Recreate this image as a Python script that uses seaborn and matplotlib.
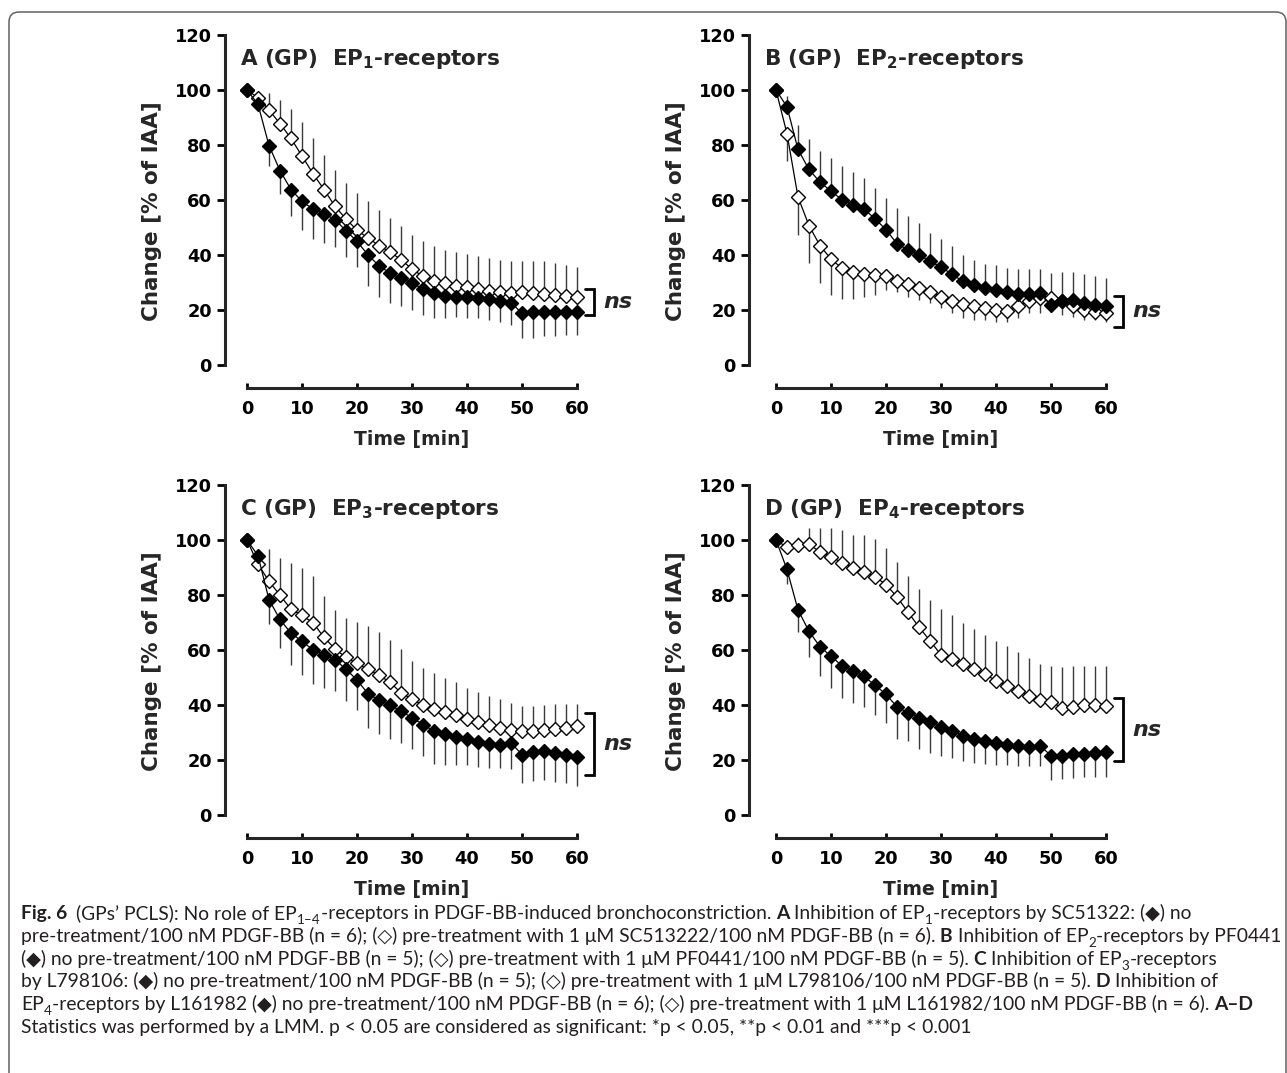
import numpy as np
import pandas as pd
import seaborn as sns
import matplotlib.pyplot as plt
from matplotlib.patches import FancyBboxPatch

# time points [min]
time_min = list(range(0, 61, 2))

# A - EP1 (SC51322)
a_ctrl_mean = [100, 94.8, 79.8, 70.7, 63.8, 59.5, 56.7, 55.0, 52.9, 48.8, 45.0, 40.0, 36.1, 33.4, 31.6, 29.8,
               27.6, 26.1, 25.2, 24.9, 24.7, 24.5, 23.9, 23.3, 22.7, 18.8, 19.1, 19.4, 19.4, 19.4, 19.4]
a_ctrl_sem = [0, 2, 7.5, 8.5, 9.7, 10.5, 10.9, 10.6, 10.1, 9.6, 9.4, 11.4, 11.2, 10.9, 10.3, 9.8,
              9.4, 9.1, 8.2, 7.6, 7.7, 7.5, 7.5, 7.5, 8.1, 9.1, 9.1, 8.8, 8.8, 8.5, 8.5]
a_inh_mean = [100, 97.2, 92.7, 87.8, 82.4, 76.0, 69.6, 63.8, 57.7, 53.1, 49.0, 46.2, 43.4, 41.1, 38.3, 34.9,
              32.2, 30.6, 29.8, 28.9, 28.2, 27.6, 27.0, 26.5, 26.1, 26.4, 26.1, 25.9, 25.5, 25.2, 24.7]
a_inh_sem = [0, 2, 6.3, 8.6, 10.8, 12.3, 13.0, 12.7, 13.1, 13.1, 13.6, 13.3, 13.1, 12.4, 12.4, 12.5,
             12.8, 12.5, 12.1, 12.2, 12.1, 11.9, 11.9, 11.8, 11.9, 11.6, 11.8, 11.8, 11.6, 11.3, 11.1]

# B - EP2 (PF0441)
b_ctrl_mean = [100, 93.9, 78.4, 71.1, 66.5, 63.2, 60.1, 58.3, 56.7, 53.2, 49.2, 44.1, 41.9, 40.1, 37.7, 35.6,
               33.0, 30.4, 29.2, 27.9, 27.3, 26.4, 25.9, 25.8, 26.1, 21.9, 23.1, 23.5, 22.7, 21.9, 21.3]
b_ctrl_sem = [0, 4, 9, 11, 11.5, 12, 12.2, 11.8, 11.3, 11.2, 11.6, 13, 12.2, 11.5, 10.3, 10.2,
              10.1, 9.7, 9.1, 8.9, 9.2, 8.8, 9, 9.1, 8.8, 11.5, 10.6, 10.5, 10.5, 10.3, 10.3]
b_inh_mean = [100, 84.1, 61.1, 50.7, 43.4, 38.5, 35.2, 33.7, 33.0, 32.8, 32.2, 30.7, 29.4, 27.9, 26.4, 24.9,
              23.3, 22.1, 21.3, 20.9, 20.0, 19.8, 21.5, 23.3, 24.3, 24.5, 23.1, 21.5, 20.0, 19.2, 18.8]
b_inh_sem = [0, 10, 13.7, 13.6, 13.6, 13, 11.3, 9.8, 8.1, 7.3, 4.9, 4.3, 4.5, 4.2, 3.9, 4.2,
             4.5, 5.1, 5.1, 4.7, 4.2, 4.0, 4.5, 4.5, 5.5, 5.4, 4.9, 3.9, 3.5, 3.0, 3.0]

# C - EP3 (L798106)
c_ctrl_mean = [100, 94.3, 78.3, 71.1, 66.1, 63.2, 60.0, 58.3, 56.5, 53.0, 49.1, 44.1, 41.8, 39.9, 37.8, 35.4,
               32.9, 30.5, 29.3, 28.3, 27.7, 26.5, 26.0, 25.6, 26.2, 22.0, 22.8, 23.4, 22.6, 22.0, 21.1]
c_ctrl_sem = [0, 3, 9, 10.5, 11.5, 12.3, 12.4, 12, 11.5, 11.5, 11, 12.5, 12.5, 12.2, 11.5, 11.5,
              11.5, 12, 11, 10, 9.4, 9, 8.8, 8.5, 9.5, 10.4, 10.5, 10.5, 10.5, 10.5, 10.5]
c_inh_mean = [100, 91.2, 85.0, 79.9, 74.8, 72.6, 69.9, 64.6, 60.4, 57.3, 55.1, 53.0, 50.9, 48.2, 44.5, 42.1,
              39.9, 38.7, 37.4, 36.2, 35.0, 33.8, 32.6, 31.7, 30.9, 30.5, 30.7, 30.9, 31.1, 31.7, 32.3]
c_inh_sem = [0, 3.8, 11.7, 13.6, 16.7, 17.4, 17.1, 14.9, 14.0, 14.3, 15.0, 15.9, 15.6, 15.6, 15.9, 14.0,
             13.4, 12.9, 12.6, 12.2, 11.3, 11.0, 10.7, 10.4, 10.0, 9.1, 8.9, 9.0, 9.1, 8.8, 8.2]

# D - EP4 (L161982)
d_ctrl_mean = [100, 89.3, 74.6, 66.8, 61.2, 57.7, 54.3, 52.4, 50.4, 47.2, 43.9, 39.3, 37.2, 35.4, 33.8, 32.1,
               30.5, 28.9, 27.7, 26.8, 26.2, 25.6, 25.0, 24.8, 25.2, 21.6, 21.3, 22.2, 22.3, 22.6, 22.8]
d_ctrl_sem = [0, 5.2, 7.9, 9.5, 10.6, 11.4, 11.6, 11.5, 11.0, 11.0, 10.6, 11.6, 10.4, 11.4, 11.2, 10.5,
              9.8, 9.4, 8.8, 8.1, 7.9, 7.3, 7.3, 6.9, 7.5, 8.8, 8.3, 8.8, 8.5, 8.6, 8.8]
d_inh_mean = [100, 97.3, 98.2, 98.4, 95.7, 93.9, 91.8, 90.0, 88.4, 86.6, 83.8, 79.3, 73.8, 68.3, 63.4, 58.2,
              56.7, 54.9, 53.0, 51.2, 48.8, 47.0, 45.1, 43.3, 41.8, 41.2, 39.0, 39.4, 39.9, 39.9, 39.6]
d_inh_sem = [0, 1, 3, 6.1, 8.8, 10.4, 11.9, 12.0, 13.4, 13.8, 13.2, 12.7, 13.0, 14.0, 14.9, 16.6,
             15.9, 15.0, 14.7, 14.4, 14.4, 14.6, 14.0, 13.8, 13.1, 13.1, 14.9, 14.9, 14.4, 14.4, 14.7]

panel_letters = ["A", "B", "C", "D"]
receptor_sub = ["1", "2", "3", "4"]
# which group gets the upward error bar
upper_group = ["inh", "ctrl", "inh", "inh"]
# "ns" bracket range (y)
ns_brackets = [(18.2, 27.6), (14.0, 25.0), (14.6, 37.0), (19.6, 42.5)]

caption_lines = [
    [("Fig. 6  ", "b"), ("(GPs\u2019 PCLS): No role of EP", "n"), ("1\u20134", "s"),
     ("-receptors in PDGF-BB-induced bronchoconstriction. ", "n"), ("A ", "b"),
     ("Inhibition of EP", "n"), ("1", "s"), ("-receptors by SC51322: (\u25c6) no", "n")],
    [("pre-treatment/100 nM PDGF-BB (n = 6); (\u25c7) pre-treatment with 1 \u03bcM SC513222/100 nM PDGF-BB (n = 6). ", "n"),
     ("B ", "b"), ("Inhibition of EP", "n"), ("2", "s"), ("-receptors by PF0441", "n")],
    [("(\u25c6) no pre-treatment/100 nM PDGF-BB (n = 5); (\u25c7) pre-treatment with 1 \u03bcM PF0441/100 nM PDGF-BB (n = 5). ", "n"),
     ("C ", "b"), ("Inhibition of EP", "n"), ("3", "s"), ("-receptors", "n")],
    [("by L798106: (\u25c6) no pre-treatment/100 nM PDGF-BB (n = 5); (\u25c7) pre-treatment with 1 \u03bcM L798106/100 nM PDGF-BB (n = 5). ", "n"),
     ("D ", "b"), ("Inhibition of", "n")],
    [("EP", "n"), ("4", "s"),
     ("-receptors by L161982 (\u25c6) no pre-treatment/100 nM PDGF-BB (n = 6); (\u25c7) pre-treatment with 1 \u03bcM L161982/100 nM PDGF-BB (n = 6). ", "n"),
     ("A\u2013D", "b")],
    [("Statistics was performed by a LMM. p < 0.05 are considered as significant: *p < 0.05, **p < 0.01 and ***p < 0.001", "n")],
]

sns.set_theme(style="ticks")
plt.rcParams["font.family"] = ["DejaVu Sans"]
plt.rcParams["font.weight"] = "bold"
plt.rcParams["axes.labelweight"] = "bold"

W, H = 1287, 1073
fig = plt.figure(figsize=(W / 100, H / 100), dpi=100)
fig.patch.set_facecolor("white")

XS = 5.5     # px per min
YS = 2.75    # px per % unit
X_OFF = 23   # px gap between y=0 and the x axis line
# (y-spine px, x=0 px, y=120 px) for each panel
panel_px = [(225, 247, 35), (749, 776, 35), (225, 247, 485), (749, 776, 485)]

groups = {
    "A": (a_ctrl_mean, a_ctrl_sem, a_inh_mean, a_inh_sem),
    "B": (b_ctrl_mean, b_ctrl_sem, b_inh_mean, b_inh_sem),
    "C": (c_ctrl_mean, c_ctrl_sem, c_inh_mean, c_inh_sem),
    "D": (d_ctrl_mean, d_ctrl_sem, d_inh_mean, d_inh_sem),
}

for i, letter in enumerate(panel_letters):
    spine_x, x0_px, top_px = panel_px[i]
    xmin = (spine_x - x0_px) / XS
    xmax = 70
    ymin = -X_OFF / YS
    left = spine_x
    width = (xmax - xmin) * XS
    bottom_px = top_px + 120 * YS + X_OFF
    height = bottom_px - top_px
    ax = fig.add_axes([left / W, 1 - bottom_px / H, width / W, height / H])
    ax.set_facecolor("none")

    cm, cs, im, isem = [np.array(v, dtype=float) for v in groups[letter]]
    df_ctrl = pd.DataFrame({"time": time_min, "mean": cm})
    df_inh = pd.DataFrame({"time": time_min, "mean": im})

    # one-sided SEM bars
    ebar_kw = dict(color="#3a3a3a", linewidth=1.0, zorder=1)
    if upper_group[i] == "inh":
        ax.vlines(time_min, im, im + isem, **ebar_kw)
        ax.vlines(time_min, cm - cs, cm, **ebar_kw)
    else:
        ax.vlines(time_min, cm, cm + cs, **ebar_kw)
        ax.vlines(time_min, im - isem, im, **ebar_kw)

    line_kw = dict(color="black", linewidth=0.9, marker="D", markersize=6.8,
                   markeredgecolor="black", markeredgewidth=1.0, errorbar=None, legend=False)
    sns.lineplot(data=df_inh, x="time", y="mean", ax=ax, markerfacecolor="white", zorder=3, **line_kw)
    sns.lineplot(data=df_ctrl, x="time", y="mean", ax=ax, markerfacecolor="black", zorder=4, **line_kw)

    ax.set_xlim(xmin, xmax)
    ax.set_ylim(ymin, 120)
    ax.set_xticks(range(0, 61, 10))
    ax.set_yticks(range(0, 121, 20))
    for s in ["top", "right"]:
        ax.spines[s].set_visible(False)
    ax.spines["left"].set_bounds(0, 120)
    ax.spines["bottom"].set_bounds(0, 60)
    ax.spines["left"].set_linewidth(2.2)
    ax.spines["bottom"].set_linewidth(2.2)
    ax.tick_params(axis="y", direction="out", length=6, width=2.0, pad=3.5, labelsize=12.8, colors="black")
    ax.tick_params(axis="x", direction="in", length=3.5, width=2.0, pad=9, labelsize=12.8, colors="black")
    for lab in ax.get_xticklabels() + ax.get_yticklabels():
        lab.set_fontweight("bold")

    ax.set_xlabel("Time [min]", fontsize=13.6, fontweight="bold")
    ax.xaxis.set_label_coords((30 - xmin) / (xmax - xmin), -42 / height)
    ax.xaxis.label.set_va("top")
    ax.set_ylabel("Change [% of IAA]", fontsize=15.5, fontweight="bold")
    ax.yaxis.set_label_coords(-73 / width, (height - (211 - 35)) / height)
    ax.yaxis.label.set_va("center")

    ax.text(15 / width, (height - 30) / height,
            letter + " (GP)  EP$_\\mathregular{" + receptor_sub[i] + "}$-receptors",
            transform=ax.transAxes, fontsize=15.5, fontweight="bold", va="baseline", ha="left")

    lo, hi = ns_brackets[i]
    ax.plot([61.5, 63.0, 63.0, 61.5], [lo, lo, hi, hi], color="black", linewidth=2.0,
            clip_on=False, solid_joinstyle="miter")
    ax.text(64.8, (lo + hi) / 2, "ns", fontsize=16, fontweight="bold", fontstyle="italic",
            va="center", ha="left", clip_on=False)

# caption
renderer = fig.canvas.get_renderer()
cap_family = ["Lato", "DejaVu Sans"]


def seg_props(kind, size):
    if kind == "b":
        return dict(family=cap_family, fontweight="bold", fontsize=size)
    if kind == "s":
        return dict(family=cap_family, fontweight="normal", fontsize=size * 0.7)
    return dict(family=cap_family, fontweight="normal", fontsize=size)


def seg_width(text, props):
    t = fig.text(0, 0, text + "|", **props)
    w1 = t.get_window_extent(renderer=renderer).width
    t.set_text("|")
    w2 = t.get_window_extent(renderer=renderer).width
    t.remove()
    return w1 - w2


def line_width(segs, size):
    return sum(seg_width(txt, seg_props(k, size)) for txt, k in segs)


base = 12.0
cap_size = base * 1255 / line_width(caption_lines[1], base)
cap_x0 = 21
cap_baselines = [919, 942, 965, 987, 1010, 1033]
for segs, yb in zip(caption_lines, cap_baselines):
    x = cap_x0
    for txt, k in segs:
        props = seg_props(k, cap_size)
        dy = -0.28 * cap_size * 100 / 72 if k == "s" else 0
        fig.text(x / W, (H - yb + dy) / H, txt, va="baseline", ha="left", color="#231f20", **props)
        x += seg_width(txt, props)

# frame round the figure
frame = FancyBboxPatch((9, H - 1090), 1277, 1090 - 12,
                       boxstyle="round,pad=0,rounding_size=10",
                       transform=None, fill=False, edgecolor="#6d6d6d", linewidth=1.2)
fig.add_artist(frame)

fig.savefig("out.png", dpi=100, facecolor="white")
